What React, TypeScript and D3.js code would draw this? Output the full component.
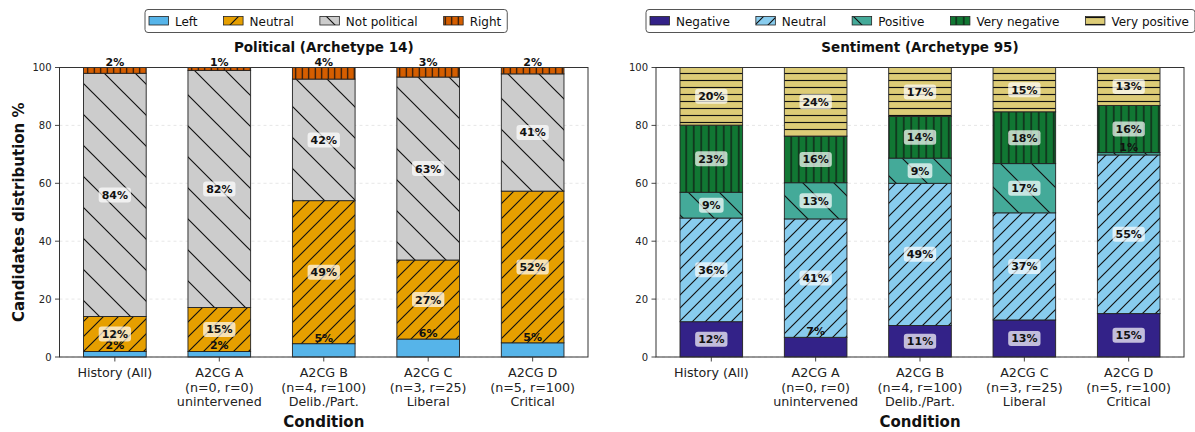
import React from "react";
import { scaleLinear, stack } from "d3";

// conditions on the x axis (one entry per tick, split into lines)
const conditions = [
  ["History (All)"],
  ["A2CG A", "(n=0, r=0)", "unintervened"],
  ["A2CG B", "(n=4, r=100)", "Delib./Part."],
  ["A2CG C", "(n=3, r=25)", "Liberal"],
  ["A2CG D", "(n=5, r=100)", "Critical"],
];

// Political (Archetype 14), % per condition
const politicalKeys = ["Left", "Neutral", "Not political", "Right"];
const politicalLeft = [1.9, 1.9, 4.6, 6.2, 4.9];
const politicalNeutral = [12.1, 15.2, 49.4, 27.3, 52.4];
const politicalNotPolitical = [84.0, 81.9, 42.0, 63.2, 40.5];
const politicalRight = [2.0, 1.0, 4.0, 3.3, 2.2];

// Sentiment (Archetype 95), % per condition
const sentimentKeys = ["Negative", "Neutral", "Positive", "Very negative", "Very positive"];
const sentimentNegative = [12.2, 6.8, 10.9, 12.8, 15.0];
const sentimentNeutral = [35.8, 40.9, 49.1, 37.0, 54.8];
const sentimentPositive = [8.9, 12.5, 8.7, 17.0, 0.8];
const sentimentVeryNegative = [23.2, 16.1, 14.4, 17.9, 16.3];
const sentimentVeryPositive = [19.9, 23.7, 16.9, 15.3, 13.1];

const yTicks = [0, 20, 40, 60, 80, 100];

type Hatch = { kind: string; s: number };
type Panel = {
  id: string;
  title: string;
  keys: string[];
  columns: number[][];
  colors: string[];
  hatches: Hatch[];
};

const panels: Panel[] = [
  {
    id: "pol",
    title: "Political (Archetype 14)",
    keys: politicalKeys,
    columns: [politicalLeft, politicalNeutral, politicalNotPolitical, politicalRight],
    colors: ["#56B4E9", "#E69F00", "#CCCCCC", "#D55E00"],
    hatches: [
      { kind: "", s: 10 },
      { kind: "/", s: 15 },
      { kind: "\\", s: 31 },
      { kind: "|", s: 6.5 },
    ],
  },
  {
    id: "sen",
    title: "Sentiment (Archetype 95)",
    keys: sentimentKeys,
    columns: [
      sentimentNegative,
      sentimentNeutral,
      sentimentPositive,
      sentimentVeryNegative,
      sentimentVeryPositive,
    ],
    colors: ["#332288", "#88CCEE", "#44AA99", "#117733", "#DDCC77"],
    hatches: [
      { kind: "", s: 10 },
      { kind: "/", s: 13 },
      { kind: "\\", s: 31 },
      { kind: "|", s: 7.5 },
      { kind: "-", s: 7 },
    ],
  },
];

const FONT = "DejaVu Sans, sans-serif";
const W = 1195;
const H = 432;
const plotTop = 67.5;
const plotBottom = 357;
const panelX: [number, number][] = [
  [59.5, 588],
  [656, 1184],
];
const legendX = [145, 646];

let ctx: CanvasRenderingContext2D | null = null;
function textWidth(s: string, font: string) {
  if (!ctx) ctx = document.createElement("canvas").getContext("2d");
  if (!ctx) return s.length * 7;
  ctx.font = font;
  return ctx.measureText(s).width;
}

function hatchPath(kind: string, s: number) {
  if (kind === "/")
    return `M0,${s} L${s},0 M${-s / 4},${s / 4} L${s / 4},${-s / 4} M${(3 * s) / 4},${(5 * s) / 4} L${(5 * s) / 4},${(3 * s) / 4}`;
  if (kind === "\\")
    return `M0,0 L${s},${s} M${-s / 4},${(3 * s) / 4} L${s / 4},${(5 * s) / 4} M${(3 * s) / 4},${-s / 4} L${(5 * s) / 4},${s / 4}`;
  if (kind === "|") return `M${s / 2},0 L${s / 2},${s}`;
  if (kind === "-") return `M0,${s / 2} L${s},${s / 2}`;
  return "";
}

function Patterns({ panel }: { panel: Panel }) {
  return (
    <>
      {panel.keys.map((k, i) => {
        const h = panel.hatches[i];
        return (
          <pattern
            key={k}
            id={`${panel.id}-${i}`}
            patternUnits="userSpaceOnUse"
            width={h.s}
            height={h.s}
          >
            <rect width={h.s} height={h.s} fill={panel.colors[i]} />
            {h.kind && (
              <path d={hatchPath(h.kind, h.s)} stroke="#111" strokeWidth={1.15} fill="none" />
            )}
          </pattern>
        );
      })}
    </>
  );
}

function Legend({ panel, x }: { panel: Panel; x: number }) {
  const font = `12px ${FONT}`;
  let cur = x + 4;
  const items = panel.keys.map((k, i) => {
    const px = cur;
    const tw = textWidth(k, font);
    cur = px + 26 + tw + 26;
    return { k, i, px, tw };
  });
  const last = items[items.length - 1];
  const right = last.px + 26 + last.tw + 6;
  return (
    <g>
      <rect
        x={x}
        y={9.5}
        width={right - x}
        height={23}
        rx={3}
        fill="#fff"
        stroke="#555"
        strokeWidth={1}
      />
      {items.map(({ k, i, px }) => (
        <g key={k}>
          <rect
            x={px}
            y={16.5}
            width={19.5}
            height={8.5}
            fill={`url(#${panel.id}-${i})`}
            stroke="#222"
            strokeWidth={0.8}
          />
          <text x={px + 26} y={25.5} fontSize={12} fontFamily={FONT} fill="#111">
            {k}
          </text>
        </g>
      ))}
    </g>
  );
}

function Chart({ panel, x0, x1, showYLabel }: { panel: Panel; x0: number; x1: number; showYLabel: boolean }) {
  const x = scaleLinear().domain([-0.53, 4.53]).range([x0, x1]);
  const y = scaleLinear().domain([0, 100]).range([plotBottom, plotTop]);
  const barW = x(0.3) - x(-0.3);
  const rows = conditions.map((_, ci) => {
    const r: Record<string, number> = {};
    panel.keys.forEach((k, ki) => (r[k] = panel.columns[ki][ci]));
    return r;
  });
  const series = stack<Record<string, number>>().keys(panel.keys)(rows);
  const labelFont = `bold 11px ${FONT}`;
  const cx = (x0 + x1) / 2;

  return (
    <g>
      {yTicks.map((t) => (
        <line
          key={`g${t}`}
          x1={x0}
          x2={x1}
          y1={y(t)}
          y2={y(t)}
          stroke="#dcdcdc"
          strokeWidth={0.7}
          strokeDasharray="3,3"
        />
      ))}
      {series.map((s, si) =>
        s.map((d, ci) => (
          <rect
            key={`${si}-${ci}`}
            x={x(ci) - barW / 2}
            y={y(d[1])}
            width={barW}
            height={Math.max(0, y(d[0]) - y(d[1]))}
            fill={`url(#${panel.id}-${si})`}
            stroke="#222"
            strokeWidth={0.9}
          />
        ))
      )}
      {series.map((s, si) =>
        s.map((d, ci) => {
          const v = d[1] - d[0];
          const label = `${Math.round(v)}%`;
          const bx = x(ci);
          if (v < 8) {
            const top = y(d[1]);
            return (
              <text
                key={`l${si}-${ci}`}
                x={bx}
                y={top - 2}
                textAnchor="middle"
                fontSize={11}
                fontWeight="bold"
                fontFamily={FONT}
                fill="#111"
              >
                {label}
              </text>
            );
          }
          const cy = y((d[0] + d[1]) / 2);
          const tw = textWidth(label, labelFont);
          return (
            <g key={`l${si}-${ci}`}>
              <rect
                x={bx - tw / 2 - 3}
                y={cy - 7.5}
                width={tw + 6}
                height={15}
                rx={3}
                fill="#fff"
                fillOpacity={0.7}
              />
              <text
                x={bx}
                y={cy + 4}
                textAnchor="middle"
                fontSize={11}
                fontWeight="bold"
                fontFamily={FONT}
                fill="#111"
              >
                {label}
              </text>
            </g>
          );
        })
      )}
      <rect
        x={x0}
        y={plotTop}
        width={x1 - x0}
        height={plotBottom - plotTop}
        fill="none"
        stroke="#333"
        strokeWidth={1}
      />
      {yTicks.map((t) => (
        <g key={`t${t}`}>
          <line x1={x0 - 4.5} x2={x0} y1={y(t)} y2={y(t)} stroke="#333" strokeWidth={0.9} />
          <text
            x={x0 - 8}
            y={y(t) + 3.5}
            textAnchor="end"
            fontSize={10}
            fontFamily={FONT}
            fill="#222"
          >
            {t}
          </text>
        </g>
      ))}
      {conditions.map((lines, ci) => (
        <g key={`x${ci}`}>
          <line
            x1={x(ci)}
            x2={x(ci)}
            y1={plotBottom}
            y2={plotBottom + 4.5}
            stroke="#333"
            strokeWidth={0.9}
          />
          <text textAnchor="middle" fontSize={12.7} fontFamily={FONT} fill="#222">
            {lines.map((ln, li) => (
              <tspan key={li} x={x(ci)} y={377 + li * 14.7}>
                {ln}
              </tspan>
            ))}
          </text>
        </g>
      ))}
      <text
        x={cx}
        y={52}
        textAnchor="middle"
        fontSize={13.5}
        fontWeight="bold"
        fontFamily={FONT}
        fill="#111"
      >
        {panel.title}
      </text>
      <text
        x={cx}
        y={426.5}
        textAnchor="middle"
        fontSize={15}
        fontWeight="bold"
        fontFamily={FONT}
        fill="#111"
      >
        Condition
      </text>
      {showYLabel && (
        <text
          transform={`translate(23.5, ${(plotTop + plotBottom) / 2}) rotate(-90)`}
          textAnchor="middle"
          fontSize={15}
          fontWeight="bold"
          fontFamily={FONT}
          fill="#111"
        >
          Candidates distribution %
        </text>
      )}
    </g>
  );
}

export default function App() {
  return (
    <svg
      width={W}
      height={H}
      style={{ position: "absolute", left: 0, top: 0, background: "#fff" }}
    >
      <defs>
        {panels.map((p) => (
          <Patterns key={p.id} panel={p} />
        ))}
      </defs>
      {panels.map((p, i) => (
        <g key={p.id}>
          <Chart panel={p} x0={panelX[i][0]} x1={panelX[i][1]} showYLabel={i === 0} />
          <Legend panel={p} x={legendX[i]} />
        </g>
      ))}
    </svg>
  );
}
